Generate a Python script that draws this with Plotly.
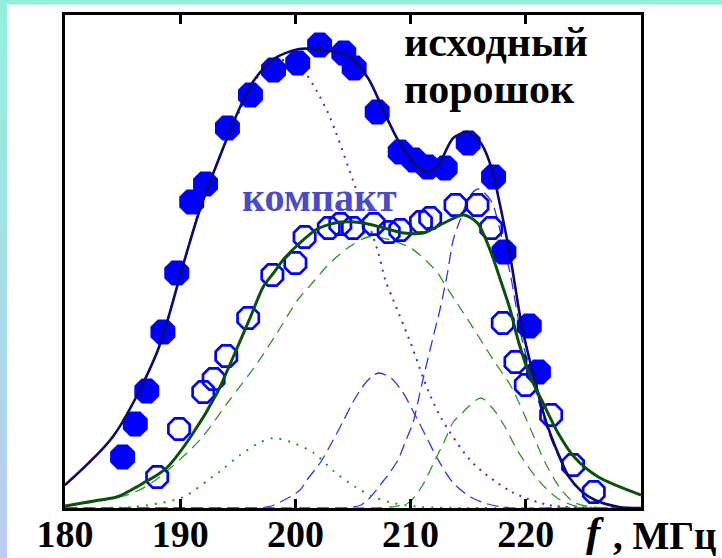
import plotly.graph_objects as go

# ---------------- data (f in MHz, intensity in a.u.) ----------------
# experimental points: original powder (filled) and compact (open)
por_f = [185.0, 186.1, 187.1, 188.5, 189.7, 191.0, 192.2, 194.1, 196.1, 198.1, 200.2, 202.1,
         204.2, 205.1, 207.1, 209.1, 210.3, 211.5, 213.0, 215.0, 217.2, 218.1, 220.3, 221.1]
por_v = [5.1, 8.4, 11.7, 17.6, 23.5, 30.6, 32.4, 38.0, 41.3, 43.8, 44.5, 46.3,
         45.5, 44.0, 39.6, 35.6, 34.8, 34.1, 34.0, 36.5, 33.1, 25.6, 18.2, 13.6]

komp_f = [188.0, 189.9, 192.0, 192.9, 194.0, 195.9, 198.0, 200.0, 200.8, 202.9, 203.9, 205.0,
          206.8, 208.1, 209.1, 210.9, 211.7, 213.9, 215.8, 217.0, 218.0, 219.1, 220.0, 222.2,
          224.1, 225.9]
komp_v = [3.1, 7.9, 11.6, 12.9, 15.2, 19.0, 23.3, 24.5, 27.1, 28.0, 28.4, 28.0,
          28.4, 27.6, 27.8, 28.6, 29.0, 30.3, 30.3, 28.0, 18.5, 14.6, 12.3, 9.3,
          4.3, 1.6]

# fitted envelope, original powder (navy solid)
fitp_f = [180.0, 184.2, 188.0, 190.3, 191.7, 193.9, 195.2, 196.3, 198.1, 200.3, 202.4, 204.5,
          206.3, 207.7, 208.9, 210.3, 211.3, 212.3, 213.7, 215.0, 216.1, 217.0, 217.8, 218.7,
          219.7, 220.8, 221.4, 222.1, 222.9, 223.7, 224.8, 226.0, 228.1, 230.0]
fitp_v = [2.3, 7.2, 15.6, 24.5, 29.8, 36.5, 40.1, 42.6, 44.9, 45.9, 45.8, 45.3,
          43.0, 39.6, 36.8, 34.5, 33.6, 34.1, 37.0, 37.6, 36.5, 34.1, 30.1, 24.8,
          17.9, 12.7, 10.0, 7.5, 5.2, 3.2, 1.7, 0.8, 0.1, 0.0]

# fitted envelope, compact (dark green solid)
fitk_f = [180.0, 183.0, 184.5, 185.9, 186.8, 188.0, 188.9, 190.9, 193.2, 194.6, 196.1, 197.2,
          198.1, 199.0, 200.2, 201.9, 203.9, 205.9, 207.7, 209.4, 211.1, 212.9, 214.6, 215.8,
          217.0, 217.8, 218.6, 219.4, 220.4, 221.5, 222.8, 224.2, 226.3, 230.0]
fitk_v = [0.2, 0.8, 1.1, 1.9, 2.5, 3.3, 4.1, 7.1, 11.5, 15.1, 19.1, 22.1,
          23.5, 24.9, 26.3, 27.9, 28.6, 28.5, 28.0, 27.5, 27.5, 28.5, 29.3, 28.5,
          25.5, 22.8, 20.0, 16.5, 13.1, 10.5, 7.5, 5.1, 3.1, 1.3]

# components of the powder spectrum (blue)
pdot_f = [180.0, 184.2, 188.0, 190.3, 191.7, 193.9, 195.2, 196.3, 198.1, 199.1, 200.3, 201.0,
          201.9, 202.8, 203.5, 205.2, 206.1, 207.2, 207.8, 208.5, 210.0, 211.5, 212.7, 215.4,
          218.8, 222.0, 226.5, 230.0]
pdot_v = [2.3, 7.2, 15.6, 24.5, 29.8, 36.5, 39.8, 42.5, 44.6, 44.8, 44.2, 43.3,
          41.6, 39.6, 37.6, 32.1, 29.3, 25.5, 22.8, 20.8, 16.5, 11.8, 8.9, 4.5,
          1.6, 0.3, 0.0, 0.0]

pdA_f = [180.0, 190.0, 195.0, 197.6, 198.7, 200.4, 201.0, 202.2, 203.0, 204.2, 205.0, 205.8,
         206.5, 207.2, 208.3, 209.3, 210.3, 211.5, 212.3, 213.7, 215.2, 216.7, 218.7, 222.0, 230.0]
pdA_v = [0.0, 0.0, 0.0, 0.1, 0.6, 1.8, 2.8, 4.6, 6.2, 8.8, 10.6, 12.1,
         13.0, 13.5, 13.0, 11.6, 9.5, 6.8, 5.0, 2.5, 1.1, 0.4, 0.0, 0.0, 0.0]

pdB_f = [180.0, 195.0, 202.0, 205.7, 207.7, 208.9, 209.6, 210.2, 211.0, 212.0, 212.6, 213.2,
         213.7, 214.3, 215.2, 215.9, 217.0, 217.8, 218.7, 219.7, 220.8, 221.4, 222.1, 222.9,
         223.7, 224.8, 226.0, 228.1, 230.0]
pdB_v = [0.0, 0.0, 0.0, 0.3, 2.8, 4.8, 6.8, 8.5, 12.5, 17.3, 20.1, 23.5,
         26.8, 28.8, 31.3, 31.9, 30.7, 27.6, 23.1, 16.7, 12.0, 9.5, 7.2, 5.0,
         3.1, 1.7, 0.8, 0.1, 0.0]

# components of the compact spectrum (green)
kdot_f = [180.0, 183.0, 185.9, 188.3, 190.3, 192.9, 193.5, 195.2, 197.0, 198.1, 199.6, 201.6,
          203.3, 205.2, 206.8, 208.5, 210.9, 215.0, 230.0]
kdot_v = [0.0, 0.0, 0.1, 0.5, 1.1, 3.2, 3.7, 5.3, 6.6, 7.0, 6.6, 5.5,
          3.7, 2.1, 1.1, 0.5, 0.1, 0.0, 0.0]

kdA_f = [180.0, 183.0, 185.9, 188.0, 191.7, 194.1, 196.7, 198.4, 200.2, 201.7, 203.0, 204.8,
         206.3, 208.3, 210.0, 210.9, 212.3, 212.9, 214.3, 215.5, 216.3, 217.3, 218.7, 220.3,
         221.7, 223.1, 224.3, 226.5, 230.0]
kdA_v = [0.2, 0.7, 1.5, 2.9, 6.8, 10.5, 14.5, 17.5, 20.8, 22.8, 24.5, 26.2,
         27.1, 26.8, 26.0, 25.2, 23.6, 22.5, 20.0, 17.9, 16.4, 14.6, 12.2, 8.2,
         4.5, 1.8, 0.5, 0.0, 0.0]

kdB_f = [180.0, 200.0, 206.0, 208.3, 209.8, 211.0, 212.0, 212.9, 213.7, 214.4, 215.0, 216.1,
         217.1, 218.1, 219.3, 221.0, 222.6, 224.0, 225.7, 230.0]
kdB_v = [0.0, 0.0, 0.0, 0.1, 0.5, 2.2, 4.5, 6.6, 8.6, 9.4, 10.1, 11.0,
         10.0, 8.3, 5.7, 2.9, 1.1, 0.3, 0.0, 0.0]

x_ticks = [180, 190, 200, 210, 220]
label_powder_1 = "исходный"
label_powder_2 = "порошок"
label_compact = "компакт"
label_axis_sym = "<i>f</i>"
label_axis_unit = ", МГц"

# ---------------- figure ----------------
fig = go.Figure()

def curve(x, y, color, width, dash):
    fig.add_trace(go.Scatter(x=x, y=y, mode="lines",
                             line=dict(color=color, width=width, dash=dash, shape="spline", smoothing=0.8),
                             hoverinfo="skip", showlegend=False, cliponaxis=True))

# component curves
curve(pdot_f, pdot_v, "#2f2ff5", 2.0, "2px,6px")
curve(pdA_f, pdA_v, "#3434f0", 1.3, "12px,6px")
curve(pdB_f, pdB_v, "#3434f0", 1.3, "12px,6px")
curve(kdot_f, kdot_v, "#1f9a1f", 2.0, "2px,7px")
curve(kdA_f, kdA_v, "#2a962a", 1.3, "11px,7px")
curve(kdB_f, kdB_v, "#2a962a", 1.3, "11px,7px")

# experimental points
fig.add_trace(go.Scatter(x=por_f, y=por_v, mode="markers",
                         marker=dict(symbol="octagon", size=27, color="#0000ff", line=dict(width=0)),
                         showlegend=False, hoverinfo="skip"))
fig.add_trace(go.Scatter(x=komp_f, y=komp_v, mode="markers",
                         marker=dict(symbol="octagon-open", size=23, color="#0000ff", line=dict(width=2.7, color="#0000ff")),
                         showlegend=False, hoverinfo="skip"))

# fitted envelopes
curve(fitp_f, fitp_v, "#0b0b72", 2.6, "solid")
curve(fitk_f, fitk_v, "#0a520a", 3.0, "solid")

fig.update_xaxes(range=[180, 230], tickvals=x_ticks, ticktext=[str(t) for t in x_ticks],
                 ticks="inside", ticklen=9, tickwidth=2.5, tickcolor="black",
                 showline=True, linewidth=2.5, linecolor="black", mirror="ticks",
                 showgrid=False, zeroline=False, automargin=False, ticklabelstandoff=-9,
                 tickfont=dict(family="Liberation Serif", size=38, color="black", weight="bold"))
fig.update_yaxes(range=[0, 49.3], showticklabels=False, ticks="",
                 showline=True, linewidth=2.5, linecolor="black", mirror=True,
                 showgrid=False, zeroline=False, automargin=False)

fig.add_annotation(x=0.585, y=0.995, xref="paper", yref="paper", xanchor="left", yanchor="top",
                   text=label_powder_1, showarrow=False, align="left",
                   font=dict(family="Liberation Serif", size=42, color="black", weight="bold"))
fig.add_annotation(x=0.585, y=0.900, xref="paper", yref="paper", xanchor="left", yanchor="top",
                   text=label_powder_2, showarrow=False, align="left",
                   font=dict(family="Liberation Serif", size=42, color="black", weight="bold"))
fig.add_annotation(x=0.304, y=0.629, xref="paper", yref="paper", xanchor="left", yanchor="middle",
                   text=label_compact, showarrow=False,
                   font=dict(family="Liberation Serif", size=40, color="#4b4bc8", weight="bold"))
fig.add_annotation(x=1.0, y=-0.0985, xref="paper", yref="paper", xanchor="left", yanchor="bottom",
                   xshift=-57, text=label_axis_sym, showarrow=False,
                   font=dict(family="Liberation Serif", size=43, color="black", weight="bold"))
fig.add_annotation(x=1.0, y=-0.056, xref="paper", yref="paper", xanchor="left", yanchor="middle",
                   xshift=-30, text=label_axis_unit, showarrow=False,
                   font=dict(family="Liberation Serif", size=39, color="black", weight="bold"))

# decorative slide border (top and left strips)
W, H, L, T, PW, PH = 722, 558, 65, 15, 576, 493
def px_x(px):
    return (px - L) / PW
def px_y(py):
    return (T + PH - py) / PH

shapes = [dict(type="rect", xref="paper", yref="paper", x0=px_x(0), x1=px_x(W), y0=px_y(4.5), y1=px_y(0),
               fillcolor="#93f0dc", line=dict(width=0), layer="below")]
n = 24
c0 = (146, 240, 220)
c1 = (186, 204, 240)
for i in range(n):
    t = i / (n - 1)
    col = "rgb(%d,%d,%d)" % tuple(round(c0[k] + (c1[k] - c0[k]) * t) for k in range(3))
    shapes.append(dict(type="rect", xref="paper", yref="paper",
                       x0=px_x(0), x1=px_x(7), y0=px_y(H * (i + 1) / n + 0.5), y1=px_y(H * i / n),
                       fillcolor=col, line=dict(width=0), layer="below"))

fig.update_layout(width=W, height=H, autosize=False,
                  margin=dict(l=L, r=W - L - PW, t=T, b=H - T - PH, pad=0),
                  paper_bgcolor="white", plot_bgcolor="white", shapes=shapes,
                  showlegend=False)

fig.write_html("out.html")
